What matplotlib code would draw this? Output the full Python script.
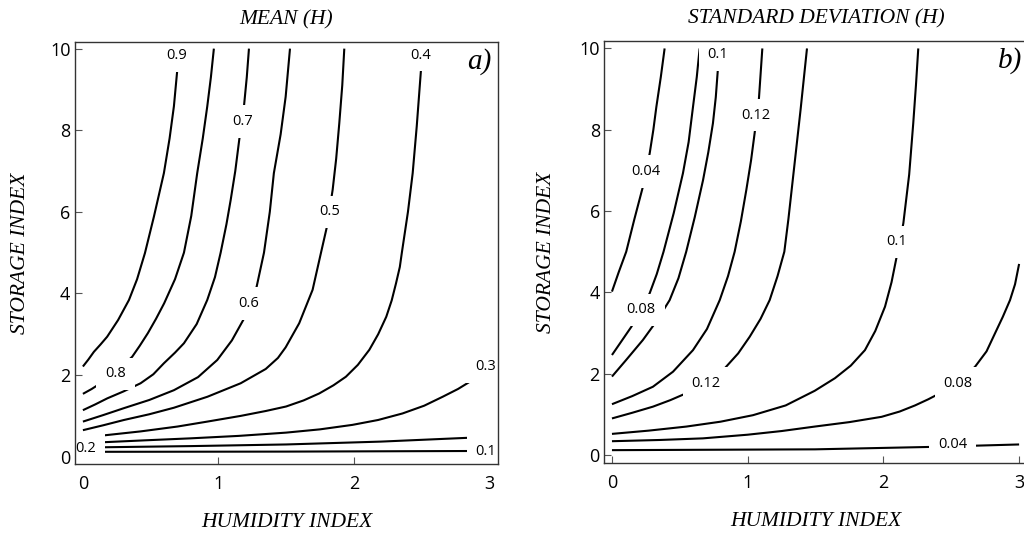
import matplotlib
matplotlib.use("Agg")
import matplotlib.pyplot as plt

plt.rcParams["font.family"] = ["Open Sans", "DejaVu Sans"]
SERIF = ["Liberation Serif", "DejaVu Serif"]

# --- mean of H: iso-lines over (humidity index, storage index) ---
mean_09_x = [0.0, 0.04, 0.081, 0.13, 0.179, 0.26, 0.34, 0.40, 0.458, 0.524, 0.56, 0.598,
             0.64, 0.672, 0.696, 0.71]
mean_09_y = [2.21, 2.38, 2.57, 2.75, 2.94, 3.35, 3.84, 4.35, 4.99, 5.88, 6.4, 6.95,
             7.8, 8.59, 9.45, 10.0]
mean_08_x = [0.0, 0.065, 0.131, 0.19, 0.241, 0.30, 0.364, 0.42, 0.48, 0.54, 0.60, 0.68,
             0.746, 0.80, 0.844, 0.885, 0.918, 0.945, 0.967]
mean_08_y = [1.54, 1.66, 1.80, 1.93, 2.08, 2.25, 2.45, 2.72, 3.03, 3.38, 3.76, 4.35,
             5.0, 5.9, 6.95, 7.8, 8.58, 9.3, 10.0]
mean_07_x = [0.0, 0.09, 0.18, 0.30, 0.426, 0.52, 0.598, 0.68, 0.746, 0.84, 0.918, 0.975,
             1.017, 1.06, 1.091, 1.125, 1.154, 1.189, 1.21, 1.226]
mean_07_y = [1.14, 1.28, 1.43, 1.60, 1.80, 2.02, 2.29, 2.55, 2.78, 3.25, 3.84, 4.4,
             5.0, 5.7, 6.29, 7.0, 7.76, 8.58, 9.3, 10.0]
mean_06_x = [0.0, 0.15, 0.303, 0.49, 0.672, 0.85, 0.992, 1.10, 1.184, 1.24, 1.283, 1.337,
             1.38, 1.41, 1.46, 1.497, 1.529]
mean_06_y = [0.86, 1.02, 1.19, 1.39, 1.63, 1.95, 2.37, 2.85, 3.35, 3.8, 4.17, 5.0,
             6.0, 6.95, 7.9, 8.82, 10.0]
mean_05_x = [0.0, 0.15, 0.303, 0.49, 0.672, 0.92, 1.165, 1.35, 1.44, 1.497, 1.597, 1.696,
             1.758, 1.802, 1.844, 1.87, 1.893, 1.915, 1.93]
mean_05_y = [0.65, 0.77, 0.90, 1.04, 1.20, 1.47, 1.80, 2.15, 2.42, 2.68, 3.27, 4.09,
             5.0, 5.64, 6.54, 7.3, 8.17, 9.1, 10.0]
mean_04_x = [0.12, 0.426, 0.70, 0.918, 1.165, 1.35, 1.5, 1.63, 1.745, 1.85, 1.942, 2.03,
             2.115, 2.18, 2.24, 2.28, 2.312, 2.34, 2.355, 2.40, 2.435, 2.465, 2.496, 2.51]
mean_04_y = [0.51, 0.62, 0.74, 0.86, 1.0, 1.12, 1.23, 1.38, 1.55, 1.75, 1.96, 2.25,
             2.62, 3.0, 3.43, 3.83, 4.25, 4.65, 5.0, 6.0, 6.95, 8.1, 9.47, 10.0]
mean_03_x = [0.12, 0.45, 0.795, 1.15, 1.5, 1.75, 1.99, 2.18, 2.36, 2.52, 2.657, 2.77, 2.878]
mean_03_y = [0.35, 0.40, 0.45, 0.51, 0.59, 0.67, 0.78, 0.90, 1.06, 1.25, 1.47, 1.66, 1.88]
mean_02_x = [0.12, 0.8, 1.5, 2.2, 2.89]
mean_02_y = [0.23, 0.26, 0.30, 0.37, 0.47]
mean_01_x = [0.12, 1.5, 2.89]
mean_01_y = [0.12, 0.125, 0.14]

mean_label_text = ["0.9", "0.8", "0.7", "0.6", "0.5", "0.4", "0.3", "0.2", "0.1"]
mean_label_x = [0.695, 0.241, 1.177, 1.221, 1.82, 2.496, 2.97, 0.02, 2.976]
mean_label_y = [9.82, 2.03, 8.21, 3.76, 6.0, 9.84, 2.21, 0.19, 0.12]

# --- standard deviation of H ---
std_004a_x = [0.0, 0.05, 0.105, 0.165, 0.228, 0.278, 0.305, 0.327, 0.36, 0.388]
std_004a_y = [4.02, 4.5, 5.0, 5.8, 6.6, 7.42, 8.0, 8.56, 9.3, 10.0]
std_008a_x = [0.0, 0.07, 0.142, 0.216, 0.278, 0.33, 0.38, 0.455, 0.523, 0.565, 0.597,
              0.625, 0.646]
std_008a_y = [2.46, 2.8, 3.15, 3.57, 3.98, 4.45, 5.0, 5.95, 6.93, 7.7, 8.56, 9.3, 10.0]
std_010a_x = [0.0, 0.105, 0.228, 0.33, 0.425, 0.49, 0.547, 0.61, 0.671, 0.71, 0.744,
              0.765, 0.78, 0.79]
std_010a_y = [1.93, 2.34, 2.83, 3.3, 3.81, 4.35, 5.0, 5.85, 6.76, 7.45, 8.16, 8.8, 9.47, 10.0]
std_012a_x = [0.0, 0.15, 0.302, 0.45, 0.597, 0.70, 0.794, 0.855, 0.904, 0.95, 0.99,
              1.025, 1.051, 1.083, 1.108]
std_012a_y = [1.25, 1.45, 1.68, 2.05, 2.58, 3.1, 3.81, 4.4, 5.0, 5.75, 6.52, 7.25, 7.91,
              8.77, 10.0]
std_012b_x = [0.0, 0.15, 0.302, 0.43, 0.548, 0.695, 0.83, 0.93, 1.015, 1.095, 1.162,
              1.22, 1.27, 1.30, 1.33, 1.36, 1.39, 1.415, 1.437]
std_012b_y = [0.90, 1.04, 1.19, 1.35, 1.52, 1.76, 2.13, 2.5, 2.91, 3.35, 3.81, 4.4,
              5.0, 5.8, 6.7, 7.6, 8.5, 9.3, 10.0]
std_010b_x = [0.0, 0.27, 0.548, 0.80, 1.039, 1.28, 1.494, 1.643, 1.76, 1.864, 1.94, 2.012,
              2.06, 2.098, 2.125, 2.147, 2.19, 2.22, 2.24, 2.257]
std_010b_y = [0.52, 0.60, 0.70, 0.82, 0.98, 1.22, 1.58, 1.89, 2.2, 2.58, 3.05, 3.65,
              4.25, 4.88, 5.3, 5.70, 6.9, 8.16, 9.1, 10.0]
std_008b_x = [0.0, 0.35, 0.67, 1.0, 1.25, 1.494, 1.75, 1.987, 2.12, 2.233, 2.33, 2.417,
              2.552, 2.675, 2.76, 2.822, 2.88, 2.933, 2.97, 3.0]
std_008b_y = [0.34, 0.37, 0.41, 0.50, 0.59, 0.70, 0.81, 0.94, 1.07, 1.22, 1.37, 1.52,
              1.80, 2.17, 2.55, 2.99, 3.4, 3.81, 4.2, 4.7]
std_004b_x = [0.0, 1.496, 2.356, 3.0]
std_004b_y = [0.12, 0.14, 0.20, 0.26]

std_label_text = ["0.04", "0.08", "0.1", "0.12", "0.12", "0.1", "0.08", "0.04"]
std_label_x = [0.253, 0.216, 0.78, 1.063, 0.695, 2.098, 2.552, 2.51]
std_label_y = [6.97, 3.57, 9.84, 8.36, 1.76, 5.24, 1.76, 0.25]

mean_curves = [(mean_09_x, mean_09_y), (mean_08_x, mean_08_y), (mean_07_x, mean_07_y),
               (mean_06_x, mean_06_y), (mean_05_x, mean_05_y), (mean_04_x, mean_04_y),
               (mean_03_x, mean_03_y), (mean_02_x, mean_02_y), (mean_01_x, mean_01_y)]
std_curves = [(std_004a_x, std_004a_y), (std_008a_x, std_008a_y), (std_010a_x, std_010a_y),
              (std_012a_x, std_012a_y), (std_012b_x, std_012b_y), (std_010b_x, std_010b_y),
              (std_008b_x, std_008b_y), (std_004b_x, std_004b_y)]


def draw_panel(ax, curves, texts, lx, ly, title, tag, xlim, ylim):
    for x, y in curves:
        ax.plot(x, y, color="black", lw=1.5, solid_capstyle="butt",
                solid_joinstyle="round", zorder=2)
    # value labels sit on a white box so the line is broken around them
    for t, x, y in zip(texts, lx, ly):
        ax.text(x, y, t, fontsize=10.5, ha="center", va="center", zorder=2.2, clip_on=True,
                bbox=dict(boxstyle="square,pad=0.6", fc="white", ec="none"))

    ax.set_xlim(*xlim)
    ax.set_ylim(*ylim)
    ax.set_xticks([0, 1, 2, 3])
    ax.set_yticks([0, 2, 4, 6, 8, 10])
    ax.tick_params(direction="in", length=5, width=0.8, color="#555555",
                   labelsize=13, top=False, right=False)
    ax.tick_params(axis="x", pad=8)
    ax.tick_params(axis="y", pad=3)
    for sp in ax.spines.values():
        sp.set_color("#333333")
        sp.set_linewidth(1.0)

    ax.set_xlabel("HUMIDITY INDEX", family=SERIF, style="italic", fontsize=15.5)
    ax.set_ylabel("STORAGE INDEX", family=SERIF, style="italic", fontsize=15.5)
    ax.xaxis.set_label_coords(0.5, -0.115)
    ax.text(0.5, 1.052, title, transform=ax.transAxes, ha="center", va="center",
            family=SERIF, style="italic", fontsize=15.5)
    ax.text(0.985, 0.952, tag, transform=ax.transAxes, ha="right", va="center",
            family=SERIF, style="italic", fontsize=21)


fig = plt.figure(figsize=(10.24, 5.38), dpi=100)
ax1 = fig.add_axes([0.0729, 0.137, 0.4137, 0.7855])
ax2 = fig.add_axes([0.5898, 0.1388, 0.4143, 0.7855])

draw_panel(ax1, mean_curves, mean_label_text, mean_label_x, mean_label_y,
           "MEAN (H)", "a)", (-0.061, 3.067), (-0.186, 10.17))
draw_panel(ax2, std_curves, std_label_text, std_label_x, std_label_y,
           "STANDARD DEVIATION (H)", "b)", (-0.059, 3.067), (-0.204, 10.19))
ax1.yaxis.set_label_coords(-0.106, 0.5)
ax2.yaxis.set_label_coords(-0.113, 0.5)

fig.savefig("out.png", dpi=100)
